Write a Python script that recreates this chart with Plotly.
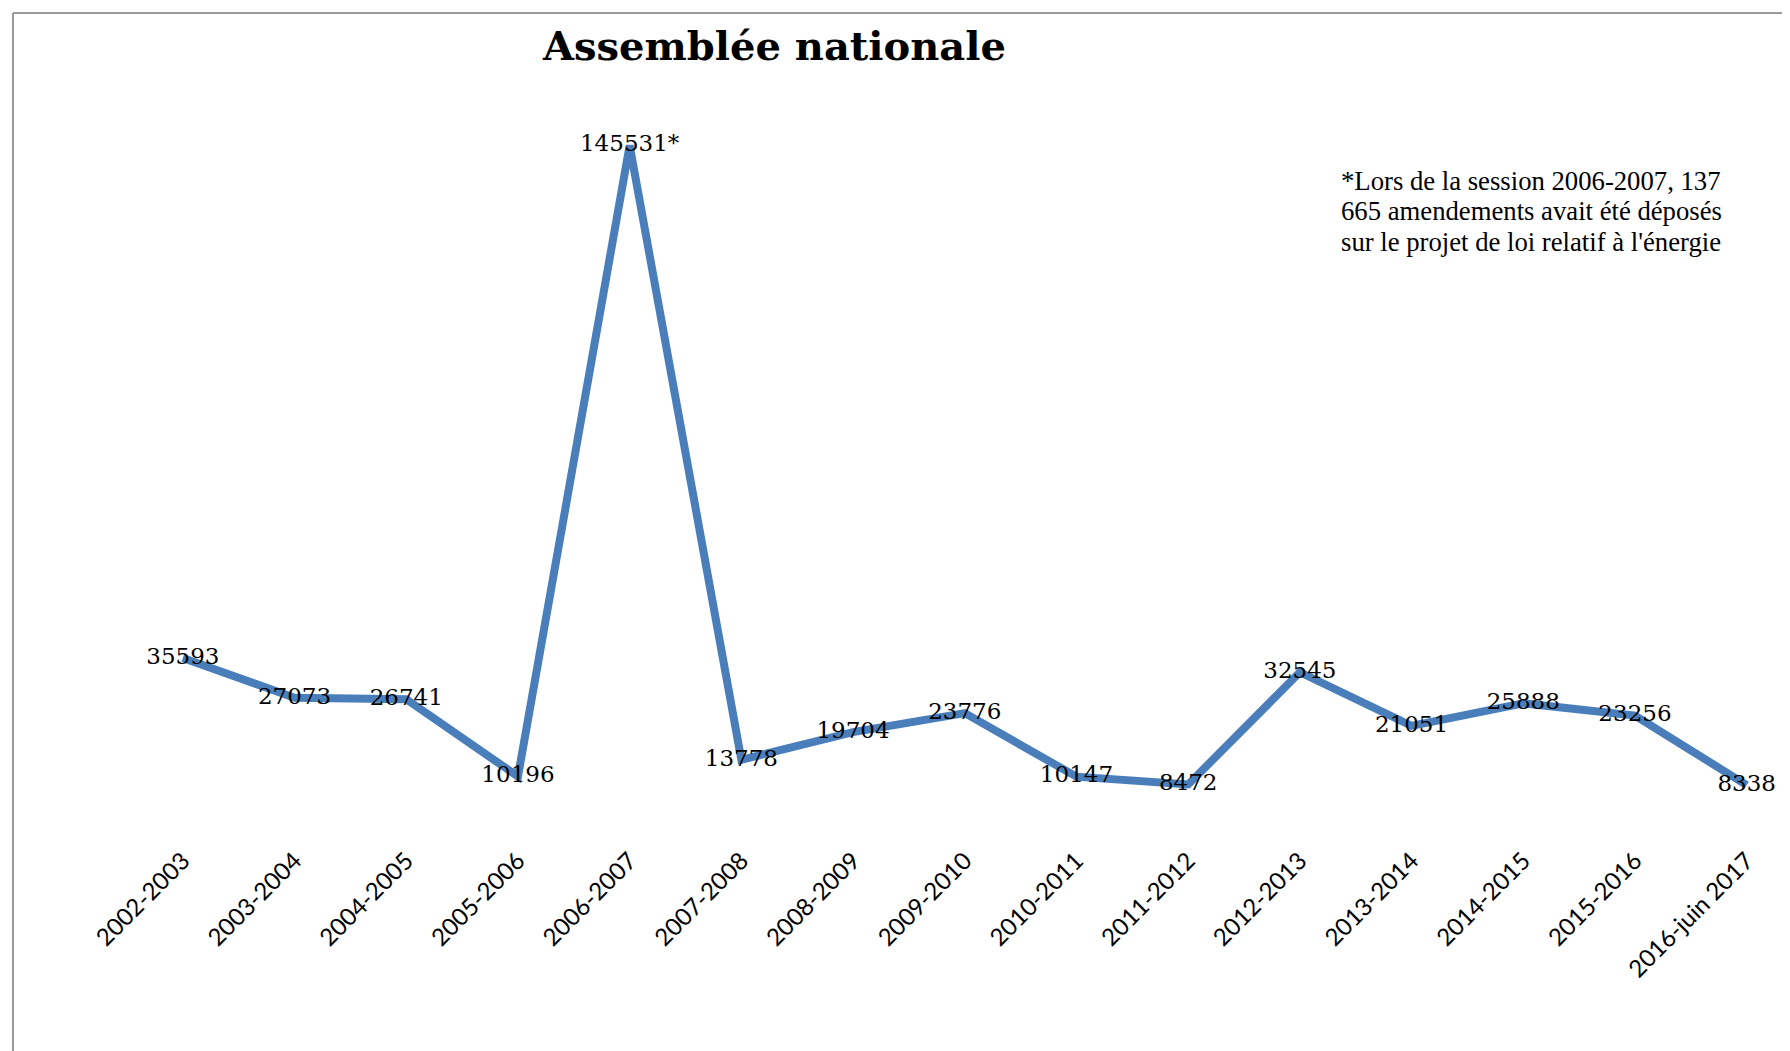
import plotly.graph_objects as go

sessions = ["2002-2003", "2003-2004", "2004-2005", "2005-2006", "2006-2007",
            "2007-2008", "2008-2009", "2009-2010", "2010-2011", "2011-2012",
            "2012-2013", "2013-2014", "2014-2015", "2015-2016", "2016-juin 2017"]
amendements = [35593, 27073, 26741, 10196, 145531, 13778, 19704, 23776,
               10147, 8472, 32545, 21051, 25888, 23256, 8338]
value_labels = ["35593", "27073", "26741", "10196", "145531*", "13778", "19704",
                "23776", "10147", "8472", "32545", "21051", "25888", "23256", "8338"]
title_text = "Assemblée nationale"
note_lines = ["*Lors de la session 2006-2007, 137",
              "665 amendements avait été déposés",
              "sur le projet de loi relatif à l'énergie"]

OFF = 8                     # default body margin of the page
W, H = 1790 - OFF, 1051 - OFF
# plot area in screen pixels
X_LEFT, X_RIGHT = 127, 1790
Y_TOP, Y_BOT = 78, 824
ML, MR = X_LEFT - OFF, 0
MT, MB = Y_TOP - OFF, (H + OFF) - Y_BOT
pw, ph = W - ML - MR, H - MT - MB

def px2paper_x(px):
    return (px - OFF - ML) / pw

def px2paper_y(py):
    return (H - MB - (py - OFF)) / ph

fig = go.Figure()
fig.add_trace(go.Scatter(
    x=list(range(len(sessions))), y=amendements,
    mode="lines+text",
    line=dict(color="#4a7ebb", width=8),
    text=value_labels, textposition="middle center",
    textfont=dict(family="DejaVu Serif", size=23, color="black"),
    cliponaxis=False, hoverinfo="skip",
))

annotations = [
    dict(text="<b>" + title_text + "</b>", xref="paper", yref="paper",
         x=px2paper_x(774), y=px2paper_y(46), xanchor="center", yanchor="middle",
         showarrow=False, font=dict(family="DejaVu Serif", size=40, color="black")),
]
for i, line in enumerate(note_lines):
    annotations.append(dict(
        text=line, xref="paper", yref="paper",
        x=px2paper_x(1339), y=px2paper_y(181 + 30.5 * i), xanchor="left", yanchor="middle",
        align="left", showarrow=False,
        font=dict(family="Liberation Serif", size=26.7, color="black")))

fig.update_layout(
    width=W, height=H,
    margin=dict(l=ML, r=MR, t=MT, b=MB),
    paper_bgcolor="white", plot_bgcolor="white",
    showlegend=False,
    xaxis=dict(
        range=[-0.5, 14.388],
        tickmode="array", tickvals=list(range(len(sessions))), ticktext=sessions,
        tickangle=-45, showgrid=False, zeroline=False, showline=False,
        ticks="", ticklabelstandoff=17,
        tickfont=dict(family="Lato", size=24, color="black"),
    ),
    yaxis=dict(range=[0, 160000], visible=False, showgrid=False, zeroline=False),
    annotations=annotations,
    shapes=[
        dict(type="line", xref="paper", yref="paper", x0=px2paper_x(13), x1=px2paper_x(1800),
             y0=px2paper_y(13), y1=px2paper_y(13), line=dict(color="#9a9a9a", width=2)),
        dict(type="line", xref="paper", yref="paper", x0=px2paper_x(13), x1=px2paper_x(13),
             y0=px2paper_y(13), y1=px2paper_y(1060), line=dict(color="#9a9a9a", width=2)),
    ],
)

fig.write_html("out.html")
